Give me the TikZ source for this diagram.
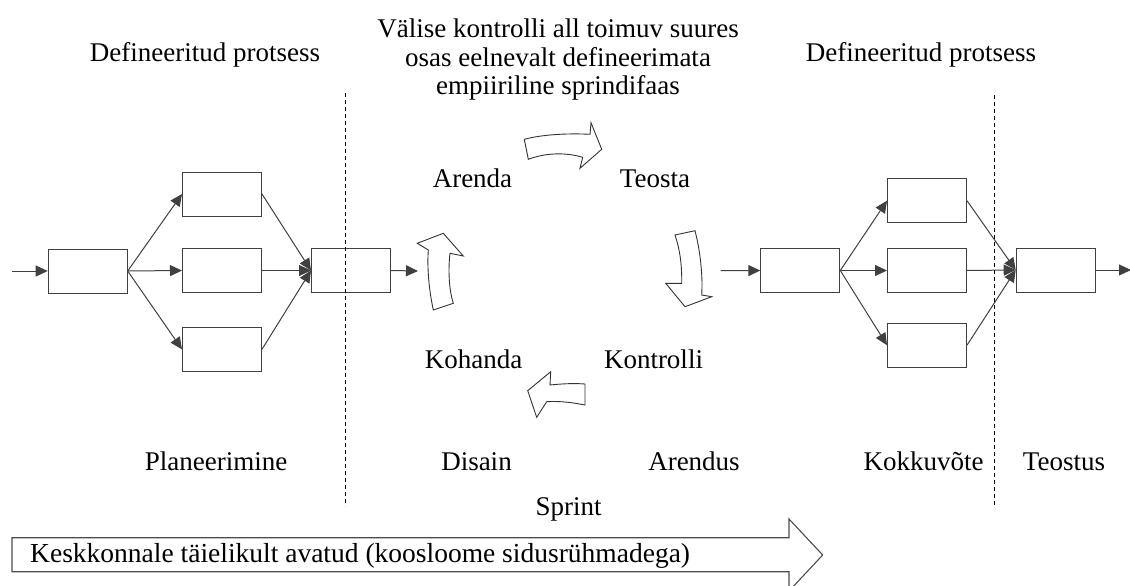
\documentclass[tikz,border=0pt]{standalone}
\usepackage{fontspec}
\setmainfont{Liberation Serif}
\usetikzlibrary{arrows.meta}
\begin{document}
\begin{tikzpicture}[x=1pt,y=-1pt,
  every node/.style={font=\fontsize{27}{28.5}\selectfont, inner sep=0pt},
  procbox/.style={draw=black!75, line width=1pt, fill=white, minimum width=79pt, minimum height=44pt},
  flow/.style={draw=black!75, line width=1pt, -{Triangle[length=12pt,width=11pt]}},
  divider/.style={draw=black, line width=1pt, dash pattern=on 4pt off 3pt},
  blockarrow/.style={draw=black!80, line width=0.9pt, fill=white, line join=miter},
  lbl/.style={anchor=base}]
\useasboundingbox (0,0) rectangle (1130,586);

% ---- left defined process ----
\node[procbox] (lin) at (87.7,271) {};
\node[procbox] (la) at (222,194) {};
\node[procbox] (lb) at (222,270.5) {};
\node[procbox] (lc) at (222,349.3) {};
\node[procbox] (lout) at (351,270.5) {};
\coordinate (lstart) at (12,271);
\coordinate (lend) at (418,271);
\draw[flow] (lstart) -- (lin.west);
\foreach \t in {la,lb,lc} {
  \draw[flow] (lin.east) -- (\t.west);
  \draw[flow] (\t.east) -- (lout.west);
}
\draw[flow] (lout.east) -- (lend);

% ---- right defined process ----
\node[procbox] (rin) at (800.3,270.5) {};
\node[procbox] (ra) at (927,200.7) {};
\node[procbox] (rb) at (927,270.5) {};
\node[procbox] (rc) at (927,345.2) {};
\node[procbox] (rout) at (1055.7,270) {};
\coordinate (rstart) at (720.7,270.7);
\coordinate (rend) at (1131,270);
\draw[flow] (rstart) -- (rin.west);
\foreach \t in {ra,rb,rc} {
  \draw[flow] (rin.east) -- (\t.west);
  \draw[flow] (\t.east) -- (rout.west);
}
\draw[flow] (rout.east) -- (rend);

% ---- phase dividers ----
\coordinate (dlt) at (345.5,93);
\coordinate (dlb) at (345.5,506);
\coordinate (drt) at (994.5,95);
\coordinate (drb) at (994.5,506);
\draw[divider] (dlt) -- (dlb);
\draw[divider] (drt) -- (drb);

% ---- sprint cycle arrows ----
\draw[blockarrow] (524.3,139.3) .. controls (540,135) and (565,133) .. (590,134.3)
  -- (591,122.7) -- (601.7,149.3) -- (580,168.3) -- (582.7,157.3)
  .. controls (565,152) and (545,153) .. (528.3,159.3) -- cycle;
\draw[blockarrow] (695,230.7) .. controls (700,250) and (703,275) .. (701.7,295)
  -- (711.7,296.7) -- (685,306.7) -- (665.7,283.3) -- (681.7,283.3)
  .. controls (682,265) and (680,250) .. (675,235) -- cycle;
\draw[blockarrow] (585,405) .. controls (570,402) and (558,401) .. (546.7,401.7)
  -- (536.7,417.3) -- (527.7,390.7) -- (550.7,371.7) -- (550,385)
  .. controls (560,384) and (572,383) .. (585,384) -- cycle;
\draw[blockarrow] (433.3,310) .. controls (429,290) and (427,268) .. (428.3,250)
  -- (417.3,243.3) -- (443.3,233.3) -- (463.3,256) -- (450,253.3)
  .. controls (448,270) and (449,290) .. (453.3,303.3) -- cycle;

% ---- headings ----
\node[lbl] (hl) at (205,62) {Defineeritud protsess};
\node[lbl] (hr) at (921,62) {Defineeritud protsess};
\node[anchor=north, align=center] (hm) at (558,19) {Välise kontrolli all toimuv suures\\osas eelnevalt defineerimata\\empiiriline sprindifaas};

% ---- cycle steps ----
\node[lbl] (arenda) at (472.5,187) {Arenda};
\node[lbl] (teosta) at (655,187) {Teosta};
\node[lbl] (kohanda) at (473.5,368) {Kohanda};
\node[lbl] (kontrolli) at (653.5,368) {Kontrolli};

% ---- phase names ----
\node[lbl] (plan) at (216,470) {Planeerimine};
\node[lbl] (disain) at (476.5,470) {Disain};
\node[lbl] (arendus) at (694,470) {Arendus};
\node[lbl] (kokku) at (923.5,470) {Kokkuvõte};
\node[lbl] (teostus) at (1064,470) {Teostus};
\node[lbl] (sprint) at (568.5,515) {Sprint};

% ---- openness arrow ----
\draw[draw=black!70, line width=1.1pt, fill=white] (12,537.7) -- (789,537.7) -- (789,519)
  -- (822.7,555) -- (789,591) -- (789,571.7) -- (12,571.7) -- cycle;
\node[anchor=base west, font=\fontsize{27.5}{29}\selectfont] (open) at (30,562) {Keskkonnale täielikult avatud (koosloome sidusrühmadega)};
\end{tikzpicture}
\end{document}
